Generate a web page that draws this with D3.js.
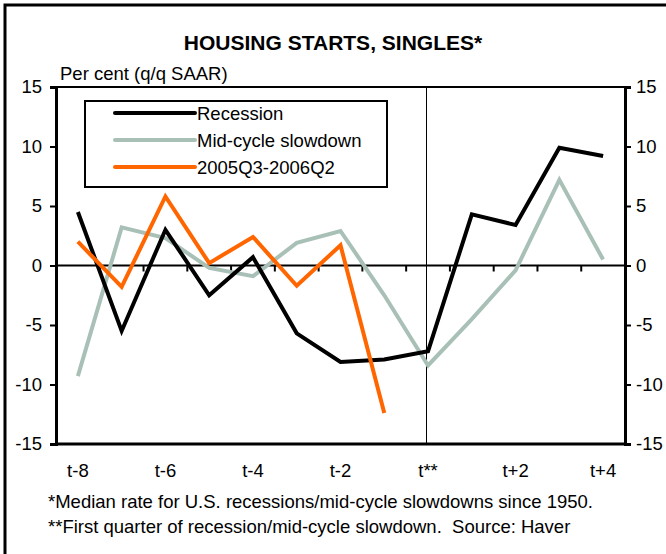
<!DOCTYPE html>
<html>
<head>
<meta charset="utf-8">
<script src="https://cdn.jsdelivr.net/npm/d3@7"></script>
<style>
  body { margin: 0; background: #fff; }
  text { font-family: Arial, "Liberation Sans", sans-serif; fill: #000; }
</style>
</head>
<body>
<script>
var w = 666;
var h = 554;

// chart data
var quarters = ['t-8','t-7','t-6','t-5','t-4','t-3','t-2','t-1','t**','t+1','t+2','t+3','t+4'];
var tickLabels = ['t-8','t-6','t-4','t-2','t**','t+2','t+4'];
var yTicks = [-15, -10, -5, 0, 5, 10, 15];
var recession = [4.5, -5.5, 3.0, -2.5, 0.7, -5.7, -8.1, -7.9, -7.2, 4.3, 3.4, 9.9, 9.2];
var midCycle = [-9.3, 3.2, 2.3, -0.2, -0.9, 1.9, 2.9, -2.5, -8.4, -4.5, -0.4, 7.2, 0.5];
var recent = [2.0, -1.8, 5.8, 0.2, 2.4, -1.7, 1.7, -12.4, null, null, null, null, null];

var seriesNames = ['Recession', 'Mid-cycle slowdown', '2005Q3-2006Q2'];
var seriesColors = ['#000000', '#a9c0b7', '#ff6600'];
var seriesData = [recession, midCycle, recent];

var plotL = 56, plotR = 625, plotT = 87, plotB = 444;
var fs = '18.5px';

var svg = d3.select('body')
            .append('svg')
            .attr('width', w)
            .attr('height', h);

// outer frame (only left and top edges are visible in the picture)
svg.append('rect')
   .attr('x', 5).attr('y', 5)
   .attr('width', w + 20).attr('height', h + 20)
   .attr('fill', 'none')
   .attr('stroke', '#000')
   .attr('stroke-width', 3);

var x = d3.scaleBand()
          .domain(quarters)
          .range([plotL, plotR]);

var y = d3.scaleLinear()
          .domain([-15, 15])
          .range([plotB, plotT]);

// title + unit
svg.append('text')
   .attr('x', 333).attr('y', 50)
   .attr('text-anchor', 'middle')
   .style('font-size', '21px')
   .style('font-weight', 'bold')
   .text('HOUSING STARTS, SINGLES*');

svg.append('text')
   .attr('x', 60).attr('y', 80)
   .style('font-size', fs)
   .text('Per cent (q/q SAAR)');

// y axes on both sides, plain hyphen for negatives
var fmt = function(d) { return String(d); };

var yLeft = svg.append('g')
   .attr('transform', 'translate(' + plotL + ',0)')
   .call(d3.axisLeft(y).tickValues(yTicks).tickSize(6).tickPadding(8).tickFormat(fmt));

var yRight = svg.append('g')
   .attr('transform', 'translate(' + plotR + ',0)')
   .call(d3.axisRight(y).tickValues(yTicks).tickSize(6).tickPadding(5).tickFormat(fmt));

[yLeft, yRight].forEach(function(g) {
  g.select('.domain').attr('stroke-width', 3);
  g.selectAll('.tick line').attr('stroke-width', 2);
  g.selectAll('.tick text').style('font-size', fs).attr('font-family', null);
});

// bottom edge of plot
svg.append('line')
   .attr('x1', plotL).attr('x2', plotR)
   .attr('y1', y(-15)).attr('y2', y(-15))
   .attr('stroke', '#000').attr('stroke-width', 3);

// top edge of plot
svg.append('line')
   .attr('x1', plotL).attr('x2', plotR)
   .attr('y1', y(15)).attr('y2', y(15))
   .attr('stroke', '#000').attr('stroke-width', 2);

// zero line with category ticks
svg.append('line')
   .attr('x1', plotL).attr('x2', plotR)
   .attr('y1', y(0)).attr('y2', y(0))
   .attr('stroke', '#000').attr('stroke-width', 2);

var boundaries = d3.range(1, quarters.length);
svg.selectAll('.cattick')
   .data(boundaries)
   .enter().append('line')
   .attr('x1', function(d) { return plotL + d * x.step(); })
   .attr('x2', function(d) { return plotL + d * x.step(); })
   .attr('y1', y(0)).attr('y2', y(0) + 6)
   .attr('stroke', '#000').attr('stroke-width', 2);

// vertical marker at t** (snapped to a pixel so it stays crisp)
var xMark = Math.round(x('t**') + x.bandwidth() / 2 - 2) + 0.5;
svg.append('line')
   .attr('x1', xMark).attr('x2', xMark)
   .attr('y1', y(15)).attr('y2', y(-15))
   .attr('stroke', '#000').attr('stroke-width', 1);

// x labels
svg.selectAll('.xlab')
   .data(tickLabels)
   .enter().append('text')
   .attr('x', function(d) { return x(d) + x.bandwidth() / 2; })
   .attr('y', 477)
   .attr('text-anchor', 'middle')
   .style('font-size', fs)
   .text(function(d) { return d; });

// lines
var line = d3.line()
             .defined(function(d) { return d != null; })
             .x(function(d, i) { return x(quarters[i]) + x.bandwidth() / 2; })
             .y(function(d) { return y(d); });

// draw order: gray under black and orange
[1, 0, 2].forEach(function(k) {
  svg.append('path')
     .datum(seriesData[k])
     .attr('d', line)
     .attr('fill', 'none')
     .attr('stroke', seriesColors[k])
     .attr('stroke-width', 4)
     .attr('stroke-linejoin', 'miter');
});

// legend
var legend = svg.append('g');
legend.append('rect')
      .attr('x', 85).attr('y', 101)
      .attr('width', 302).attr('height', 86)
      .attr('fill', '#fff')
      .attr('stroke', '#000')
      .attr('stroke-width', 2);

seriesNames.forEach(function(name, i) {
  var ly = 113 + i * 27;
  legend.append('line')
        .attr('x1', 115).attr('x2', 195)
        .attr('y1', ly).attr('y2', ly)
        .attr('stroke', seriesColors[i])
        .attr('stroke-width', 4)
        .attr('stroke-linecap', 'round');
  legend.append('text')
        .attr('x', 197).attr('y', ly + 6.5)
        .style('font-size', fs)
        .text(name);
});

// footnotes
svg.append('text')
   .attr('x', 48).attr('y', 508)
   .style('font-size', fs)
   .text('*Median rate for U.S. recessions/mid-cycle slowdowns since 1950.');
svg.append('text')
   .attr('x', 48).attr('y', 533)
   .style('font-size', fs)
   .style('white-space', 'pre')
   .text('**First quarter of recession/mid-cycle slowdown.  Source: Haver');
</script>
</body>
</html>
